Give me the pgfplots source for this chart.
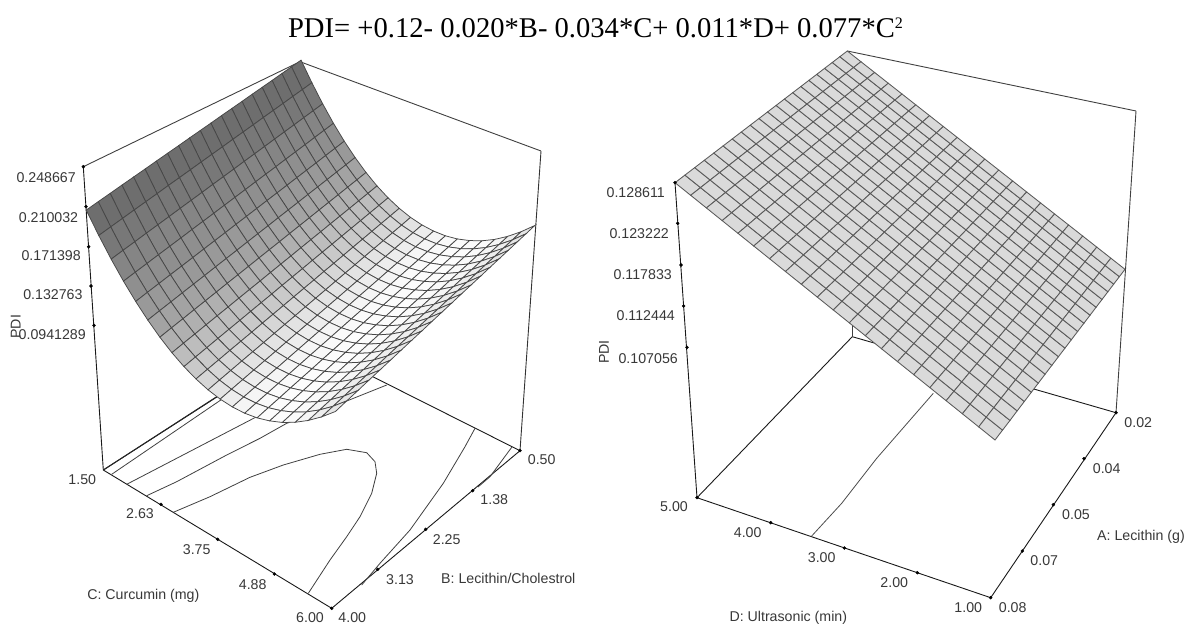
\documentclass[border=0pt]{standalone}
\usepackage{fontspec}
\setmainfont{Liberation Sans}
\newfontfamily\serifT{Liberation Serif}
\usepackage{pgfplots}
\usepackage{pgfplotstable}
\pgfplotsset{compat=1.18}
\pgfplotsset{colormap={sg}{gray(0cm)=(0.43); gray(0.5cm)=(0.43); gray(1.5cm)=(0.47); gray(2.5cm)=(0.52); gray(3.5cm)=(0.56); gray(4.5cm)=(0.60); gray(5.5cm)=(0.64); gray(6.5cm)=(0.69); gray(7.5cm)=(0.74); gray(8.5cm)=(0.79); gray(9.5cm)=(0.84); gray(10.5cm)=(0.89); gray(11.5cm)=(0.93); gray(12.5cm)=(0.96); gray(13.5cm)=(0.98); gray(14.5cm)=(0.99); gray(15.5cm)=(0.99); gray(16.5cm)=(0.98); gray(17.5cm)=(0.96); gray(18.5cm)=(0.93); gray(19.5cm)=(0.90); gray(20cm)=(0.90)}}
% PDI surface, C from 1.50 to 6.00 (one line each), B from 0.50 to 4.00 within a line
\pgfplotstableread[row sep=\\]{PDI\\
0.2487\\ 0.2467\\ 0.2448\\ 0.2428\\ 0.2409\\ 0.2390\\ 0.2370\\ 0.2351\\ 0.2332\\ 0.2312\\ 0.2293\\ 0.2274\\ 0.2254\\ 0.2235\\ 0.2216\\ 0.2196\\ 0.2177\\ 0.2158\\ 0.2138\\ 0.2119\\ 0.2099\\
0.2307\\ 0.2287\\ 0.2268\\ 0.2248\\ 0.2229\\ 0.2210\\ 0.2190\\ 0.2171\\ 0.2152\\ 0.2132\\ 0.2113\\ 0.2094\\ 0.2074\\ 0.2055\\ 0.2036\\ 0.2016\\ 0.1997\\ 0.1978\\ 0.1958\\ 0.1939\\ 0.1919\\
0.2142\\ 0.2122\\ 0.2103\\ 0.2083\\ 0.2064\\ 0.2045\\ 0.2025\\ 0.2006\\ 0.1987\\ 0.1967\\ 0.1948\\ 0.1929\\ 0.1909\\ 0.1890\\ 0.1871\\ 0.1851\\ 0.1832\\ 0.1813\\ 0.1793\\ 0.1774\\ 0.1754\\
0.1992\\ 0.1972\\ 0.1953\\ 0.1933\\ 0.1914\\ 0.1895\\ 0.1875\\ 0.1856\\ 0.1837\\ 0.1817\\ 0.1798\\ 0.1779\\ 0.1759\\ 0.1740\\ 0.1721\\ 0.1701\\ 0.1682\\ 0.1663\\ 0.1643\\ 0.1624\\ 0.1604\\
0.1858\\ 0.1838\\ 0.1819\\ 0.1799\\ 0.1780\\ 0.1761\\ 0.1741\\ 0.1722\\ 0.1703\\ 0.1683\\ 0.1664\\ 0.1645\\ 0.1625\\ 0.1606\\ 0.1587\\ 0.1567\\ 0.1548\\ 0.1529\\ 0.1509\\ 0.1490\\ 0.1470\\
0.1740\\ 0.1720\\ 0.1701\\ 0.1681\\ 0.1662\\ 0.1643\\ 0.1623\\ 0.1604\\ 0.1585\\ 0.1565\\ 0.1546\\ 0.1527\\ 0.1507\\ 0.1488\\ 0.1469\\ 0.1449\\ 0.1430\\ 0.1411\\ 0.1391\\ 0.1372\\ 0.1352\\
0.1636\\ 0.1616\\ 0.1597\\ 0.1577\\ 0.1558\\ 0.1539\\ 0.1519\\ 0.1500\\ 0.1481\\ 0.1461\\ 0.1442\\ 0.1423\\ 0.1403\\ 0.1384\\ 0.1365\\ 0.1345\\ 0.1326\\ 0.1307\\ 0.1287\\ 0.1268\\ 0.1248\\
0.1548\\ 0.1528\\ 0.1509\\ 0.1489\\ 0.1470\\ 0.1451\\ 0.1431\\ 0.1412\\ 0.1393\\ 0.1373\\ 0.1354\\ 0.1335\\ 0.1315\\ 0.1296\\ 0.1277\\ 0.1257\\ 0.1238\\ 0.1219\\ 0.1199\\ 0.1180\\ 0.1160\\
0.1476\\ 0.1456\\ 0.1437\\ 0.1417\\ 0.1398\\ 0.1379\\ 0.1359\\ 0.1340\\ 0.1321\\ 0.1301\\ 0.1282\\ 0.1263\\ 0.1243\\ 0.1224\\ 0.1205\\ 0.1185\\ 0.1166\\ 0.1147\\ 0.1127\\ 0.1108\\ 0.1088\\
0.1419\\ 0.1399\\ 0.1380\\ 0.1360\\ 0.1341\\ 0.1322\\ 0.1302\\ 0.1283\\ 0.1264\\ 0.1244\\ 0.1225\\ 0.1206\\ 0.1186\\ 0.1167\\ 0.1148\\ 0.1128\\ 0.1109\\ 0.1090\\ 0.1070\\ 0.1051\\ 0.1031\\
0.1377\\ 0.1357\\ 0.1338\\ 0.1318\\ 0.1299\\ 0.1280\\ 0.1260\\ 0.1241\\ 0.1222\\ 0.1202\\ 0.1183\\ 0.1164\\ 0.1144\\ 0.1125\\ 0.1106\\ 0.1086\\ 0.1067\\ 0.1048\\ 0.1028\\ 0.1009\\ 0.0989\\
0.1351\\ 0.1331\\ 0.1312\\ 0.1292\\ 0.1273\\ 0.1254\\ 0.1234\\ 0.1215\\ 0.1196\\ 0.1176\\ 0.1157\\ 0.1138\\ 0.1118\\ 0.1099\\ 0.1080\\ 0.1060\\ 0.1041\\ 0.1022\\ 0.1002\\ 0.0983\\ 0.0963\\
0.1340\\ 0.1320\\ 0.1301\\ 0.1281\\ 0.1262\\ 0.1243\\ 0.1223\\ 0.1204\\ 0.1185\\ 0.1165\\ 0.1146\\ 0.1127\\ 0.1107\\ 0.1088\\ 0.1069\\ 0.1049\\ 0.1030\\ 0.1011\\ 0.0991\\ 0.0972\\ 0.0952\\
0.1344\\ 0.1324\\ 0.1305\\ 0.1285\\ 0.1266\\ 0.1247\\ 0.1227\\ 0.1208\\ 0.1189\\ 0.1169\\ 0.1150\\ 0.1131\\ 0.1111\\ 0.1092\\ 0.1073\\ 0.1053\\ 0.1034\\ 0.1015\\ 0.0995\\ 0.0976\\ 0.0956\\
0.1364\\ 0.1344\\ 0.1325\\ 0.1305\\ 0.1286\\ 0.1267\\ 0.1247\\ 0.1228\\ 0.1209\\ 0.1189\\ 0.1170\\ 0.1151\\ 0.1131\\ 0.1112\\ 0.1093\\ 0.1073\\ 0.1054\\ 0.1035\\ 0.1015\\ 0.0996\\ 0.0976\\
0.1400\\ 0.1380\\ 0.1361\\ 0.1341\\ 0.1322\\ 0.1303\\ 0.1283\\ 0.1264\\ 0.1245\\ 0.1225\\ 0.1206\\ 0.1187\\ 0.1167\\ 0.1148\\ 0.1129\\ 0.1109\\ 0.1090\\ 0.1071\\ 0.1051\\ 0.1032\\ 0.1012\\
0.1450\\ 0.1430\\ 0.1411\\ 0.1391\\ 0.1372\\ 0.1353\\ 0.1333\\ 0.1314\\ 0.1295\\ 0.1275\\ 0.1256\\ 0.1237\\ 0.1217\\ 0.1198\\ 0.1179\\ 0.1159\\ 0.1140\\ 0.1121\\ 0.1101\\ 0.1082\\ 0.1062\\
0.1516\\ 0.1496\\ 0.1477\\ 0.1457\\ 0.1438\\ 0.1419\\ 0.1399\\ 0.1380\\ 0.1361\\ 0.1341\\ 0.1322\\ 0.1303\\ 0.1283\\ 0.1264\\ 0.1245\\ 0.1225\\ 0.1206\\ 0.1187\\ 0.1167\\ 0.1148\\ 0.1128\\
0.1598\\ 0.1578\\ 0.1559\\ 0.1539\\ 0.1520\\ 0.1501\\ 0.1481\\ 0.1462\\ 0.1443\\ 0.1423\\ 0.1404\\ 0.1385\\ 0.1365\\ 0.1346\\ 0.1327\\ 0.1307\\ 0.1288\\ 0.1269\\ 0.1249\\ 0.1230\\ 0.1210\\
0.1695\\ 0.1675\\ 0.1656\\ 0.1636\\ 0.1617\\ 0.1598\\ 0.1578\\ 0.1559\\ 0.1540\\ 0.1520\\ 0.1501\\ 0.1482\\ 0.1462\\ 0.1443\\ 0.1424\\ 0.1404\\ 0.1385\\ 0.1366\\ 0.1346\\ 0.1327\\ 0.1307\\
0.1807\\ 0.1787\\ 0.1768\\ 0.1748\\ 0.1729\\ 0.1710\\ 0.1690\\ 0.1671\\ 0.1652\\ 0.1632\\ 0.1613\\ 0.1594\\ 0.1574\\ 0.1555\\ 0.1536\\ 0.1516\\ 0.1497\\ 0.1478\\ 0.1458\\ 0.1439\\ 0.1419\\
}\tabL
% PDI plane, D from 5 to 1 (one line each), A from 0.08 to 0.02 within a line
\pgfplotstableread[row sep=\\]{PDI\\
0.12860\\ 0.12860\\ 0.12860\\ 0.12860\\ 0.12860\\ 0.12860\\ 0.12860\\ 0.12860\\ 0.12860\\ 0.12860\\ 0.12860\\ 0.12860\\ 0.12860\\ 0.12860\\ 0.12860\\ 0.12860\\ 0.12860\\ 0.12860\\ 0.12860\\ 0.12860\\ 0.12860\\
0.12752\\ 0.12752\\ 0.12752\\ 0.12752\\ 0.12752\\ 0.12752\\ 0.12752\\ 0.12752\\ 0.12752\\ 0.12752\\ 0.12752\\ 0.12752\\ 0.12752\\ 0.12752\\ 0.12752\\ 0.12752\\ 0.12752\\ 0.12752\\ 0.12752\\ 0.12752\\ 0.12752\\
0.12644\\ 0.12644\\ 0.12644\\ 0.12644\\ 0.12644\\ 0.12644\\ 0.12644\\ 0.12644\\ 0.12644\\ 0.12644\\ 0.12644\\ 0.12644\\ 0.12644\\ 0.12644\\ 0.12644\\ 0.12644\\ 0.12644\\ 0.12644\\ 0.12644\\ 0.12644\\ 0.12644\\
0.12536\\ 0.12536\\ 0.12536\\ 0.12536\\ 0.12536\\ 0.12536\\ 0.12536\\ 0.12536\\ 0.12536\\ 0.12536\\ 0.12536\\ 0.12536\\ 0.12536\\ 0.12536\\ 0.12536\\ 0.12536\\ 0.12536\\ 0.12536\\ 0.12536\\ 0.12536\\ 0.12536\\
0.12428\\ 0.12428\\ 0.12428\\ 0.12428\\ 0.12428\\ 0.12428\\ 0.12428\\ 0.12428\\ 0.12428\\ 0.12428\\ 0.12428\\ 0.12428\\ 0.12428\\ 0.12428\\ 0.12428\\ 0.12428\\ 0.12428\\ 0.12428\\ 0.12428\\ 0.12428\\ 0.12428\\
0.12320\\ 0.12320\\ 0.12320\\ 0.12320\\ 0.12320\\ 0.12320\\ 0.12320\\ 0.12320\\ 0.12320\\ 0.12320\\ 0.12320\\ 0.12320\\ 0.12320\\ 0.12320\\ 0.12320\\ 0.12320\\ 0.12320\\ 0.12320\\ 0.12320\\ 0.12320\\ 0.12320\\
0.12212\\ 0.12212\\ 0.12212\\ 0.12212\\ 0.12212\\ 0.12212\\ 0.12212\\ 0.12212\\ 0.12212\\ 0.12212\\ 0.12212\\ 0.12212\\ 0.12212\\ 0.12212\\ 0.12212\\ 0.12212\\ 0.12212\\ 0.12212\\ 0.12212\\ 0.12212\\ 0.12212\\
0.12104\\ 0.12104\\ 0.12104\\ 0.12104\\ 0.12104\\ 0.12104\\ 0.12104\\ 0.12104\\ 0.12104\\ 0.12104\\ 0.12104\\ 0.12104\\ 0.12104\\ 0.12104\\ 0.12104\\ 0.12104\\ 0.12104\\ 0.12104\\ 0.12104\\ 0.12104\\ 0.12104\\
0.11996\\ 0.11996\\ 0.11996\\ 0.11996\\ 0.11996\\ 0.11996\\ 0.11996\\ 0.11996\\ 0.11996\\ 0.11996\\ 0.11996\\ 0.11996\\ 0.11996\\ 0.11996\\ 0.11996\\ 0.11996\\ 0.11996\\ 0.11996\\ 0.11996\\ 0.11996\\ 0.11996\\
0.11888\\ 0.11888\\ 0.11888\\ 0.11888\\ 0.11888\\ 0.11888\\ 0.11888\\ 0.11888\\ 0.11888\\ 0.11888\\ 0.11888\\ 0.11888\\ 0.11888\\ 0.11888\\ 0.11888\\ 0.11888\\ 0.11888\\ 0.11888\\ 0.11888\\ 0.11888\\ 0.11888\\
0.11780\\ 0.11780\\ 0.11780\\ 0.11780\\ 0.11780\\ 0.11780\\ 0.11780\\ 0.11780\\ 0.11780\\ 0.11780\\ 0.11780\\ 0.11780\\ 0.11780\\ 0.11780\\ 0.11780\\ 0.11780\\ 0.11780\\ 0.11780\\ 0.11780\\ 0.11780\\ 0.11780\\
0.11672\\ 0.11672\\ 0.11672\\ 0.11672\\ 0.11672\\ 0.11672\\ 0.11672\\ 0.11672\\ 0.11672\\ 0.11672\\ 0.11672\\ 0.11672\\ 0.11672\\ 0.11672\\ 0.11672\\ 0.11672\\ 0.11672\\ 0.11672\\ 0.11672\\ 0.11672\\ 0.11672\\
0.11564\\ 0.11564\\ 0.11564\\ 0.11564\\ 0.11564\\ 0.11564\\ 0.11564\\ 0.11564\\ 0.11564\\ 0.11564\\ 0.11564\\ 0.11564\\ 0.11564\\ 0.11564\\ 0.11564\\ 0.11564\\ 0.11564\\ 0.11564\\ 0.11564\\ 0.11564\\ 0.11564\\
0.11456\\ 0.11456\\ 0.11456\\ 0.11456\\ 0.11456\\ 0.11456\\ 0.11456\\ 0.11456\\ 0.11456\\ 0.11456\\ 0.11456\\ 0.11456\\ 0.11456\\ 0.11456\\ 0.11456\\ 0.11456\\ 0.11456\\ 0.11456\\ 0.11456\\ 0.11456\\ 0.11456\\
0.11348\\ 0.11348\\ 0.11348\\ 0.11348\\ 0.11348\\ 0.11348\\ 0.11348\\ 0.11348\\ 0.11348\\ 0.11348\\ 0.11348\\ 0.11348\\ 0.11348\\ 0.11348\\ 0.11348\\ 0.11348\\ 0.11348\\ 0.11348\\ 0.11348\\ 0.11348\\ 0.11348\\
0.11240\\ 0.11240\\ 0.11240\\ 0.11240\\ 0.11240\\ 0.11240\\ 0.11240\\ 0.11240\\ 0.11240\\ 0.11240\\ 0.11240\\ 0.11240\\ 0.11240\\ 0.11240\\ 0.11240\\ 0.11240\\ 0.11240\\ 0.11240\\ 0.11240\\ 0.11240\\ 0.11240\\
0.11132\\ 0.11132\\ 0.11132\\ 0.11132\\ 0.11132\\ 0.11132\\ 0.11132\\ 0.11132\\ 0.11132\\ 0.11132\\ 0.11132\\ 0.11132\\ 0.11132\\ 0.11132\\ 0.11132\\ 0.11132\\ 0.11132\\ 0.11132\\ 0.11132\\ 0.11132\\ 0.11132\\
0.11024\\ 0.11024\\ 0.11024\\ 0.11024\\ 0.11024\\ 0.11024\\ 0.11024\\ 0.11024\\ 0.11024\\ 0.11024\\ 0.11024\\ 0.11024\\ 0.11024\\ 0.11024\\ 0.11024\\ 0.11024\\ 0.11024\\ 0.11024\\ 0.11024\\ 0.11024\\ 0.11024\\
0.10916\\ 0.10916\\ 0.10916\\ 0.10916\\ 0.10916\\ 0.10916\\ 0.10916\\ 0.10916\\ 0.10916\\ 0.10916\\ 0.10916\\ 0.10916\\ 0.10916\\ 0.10916\\ 0.10916\\ 0.10916\\ 0.10916\\ 0.10916\\ 0.10916\\ 0.10916\\ 0.10916\\
0.10808\\ 0.10808\\ 0.10808\\ 0.10808\\ 0.10808\\ 0.10808\\ 0.10808\\ 0.10808\\ 0.10808\\ 0.10808\\ 0.10808\\ 0.10808\\ 0.10808\\ 0.10808\\ 0.10808\\ 0.10808\\ 0.10808\\ 0.10808\\ 0.10808\\ 0.10808\\ 0.10808\\
0.10700\\ 0.10700\\ 0.10700\\ 0.10700\\ 0.10700\\ 0.10700\\ 0.10700\\ 0.10700\\ 0.10700\\ 0.10700\\ 0.10700\\ 0.10700\\ 0.10700\\ 0.10700\\ 0.10700\\ 0.10700\\ 0.10700\\ 0.10700\\ 0.10700\\ 0.10700\\ 0.10700\\
}\tabR
% perspective of the two boxes (C,B,PDI and D,A)
\newcommand\Lu{(floor((\coordindex+0.5)/21)/20)}
\newcommand\Lv{(1-floor(mod(\coordindex+0.5,21))/20)}
\newcommand\Lw{((\thisrow{PDI}+0.048)/0.2967)}
\newcommand\Ld{(1-0.093*\Lu+0.1333*\Lv-0.1*\Lw)}
\newcommand\Ru{((0.1286-\thisrow{PDI})/0.0216)}
\newcommand\Rv{(floor(mod(\coordindex+0.5,21))/20)}
\newcommand\Rd{(1-0.02106*\Ru+0.16218*\Rv)}
\tikzset{lab/.style={font=\fontsize{14.2}{14.2}\selectfont,text=black!78,inner sep=0pt}}
\begin{document}
\begin{tikzpicture}
\path[use as bounding box] (0,0) rectangle (1194pt,626pt);
\begin{axis}[anchor=south west,at={(0pt,0pt)},scale only axis,width=1194pt,height=626pt,
  xmin=0,xmax=1194,ymin=0,ymax=626,y dir=reverse,hide axis,clip=false,
  colormap name=sg,point meta min=0,point meta max=20]
% left box
\addplot[black!75,line width=0.9pt,no marks] coordinates {(83.3,166.7) (300,61.7) (541,151)};
\addplot[black!80,line width=0.9pt,no marks] coordinates {(541,151) (520,450.7)};
\addplot[black!90,line width=0.9pt,no marks] coordinates {(83.3,166.7) (103.3,470) (331.7,608.3) (520,450.7) (303,341.6) (103.3,470)};
% left contours
\addplot[black!75,line width=0.8pt,no marks] coordinates {(173.3,512.3) (210,496.7) (250,477.3) (283.3,465) (320,454.3) (346.7,449.3) (366.7,452.7) (375,461.7) (376.7,473.3) (371.7,493.3) (360,516.7) (346.7,536.7) (330,560) (308.3,593.3)};
\addplot[black!75,line width=0.8pt,no marks] coordinates {(146.7,495.7) (176.7,481.7) (226.7,455) (260,438.3) (286.7,423.3) (320,411.7) (386.7,385)};
\addplot[black!75,line width=0.8pt,no marks] coordinates {(126.7,484.3) (260,415)};
\addplot[black!75,line width=0.8pt,no marks] coordinates {(111.7,474.3) (223.3,398.3)};
\addplot[black!85,line width=1pt,no marks] coordinates {(103.3,470) (216.7,396.7)};
\addplot[black!75,line width=0.8pt,no marks] coordinates {(475,428.3) (465,446.7) (443.3,483.3) (410,530) (380,563.3) (361.7,585)};
\addplot[black!75,line width=0.8pt,no marks] coordinates {(511.7,447.3) (490,476.7) (478,487)};
% right box
\addplot[black!75,line width=0.9pt,no marks] coordinates {(847.3,51) (1136,111)};
\addplot[black!75,line width=0.9pt,no marks] coordinates {(1136,111) (1116,412.7)};
\addplot[black!90,line width=0.9pt,no marks] coordinates {(675,182.7) (697,497.7) (990.7,597.7) (1116,412.7) (852.3,336.7) (697,497.7)};
\addplot[black!75,line width=0.9pt,no marks] coordinates {(852.3,336.7) (852.3,320)};
\addplot[black!70,line width=0.8pt,no marks] coordinates {(811.7,536) (841.7,503.3) (876.7,458.3) (933.3,393.3)};
% surfaces
\addplot[surf,mesh/rows=21,mesh/cols=21,shader=faceted,faceted color=black!72,line width=0.75pt,point meta={floor((\coordindex+0.5)/21)}]
  table[x index=0,y index=0,x expr={(103.3+197.6*\Lu+236.1*\Lv-28.3*\Lw)/\Ld},y expr={(470+81.7*\Lu-87.9*\Lv-320*\Lw)/\Ld}] {\tabL};
\addplot[surf,mesh/rows=21,mesh/cols=21,shader=faceted,faceted color=black!65,line width=0.85pt,point meta=9.8]
  table[x index=0,y index=0,x expr={(675+299.05*\Ru+309.7*\Rv)/\Rd},y expr={(182.7+248.03*\Ru-123.43*\Rv)/\Rd}] {\tabR};
% tick dots
\addplot[only marks,mark=*,mark size=1.5pt,black] coordinates {(83.3,166.7) (86,206.7) (88.7,246.7) (91,286) (94,325.3) (161,504.3) (217.7,539.3) (274.3,574) (331.7,608.3) (377.7,569.3) (425.7,529.3) (472.7,490.7) (520,450.7)};
\addplot[only marks,mark=*,mark size=1.5pt,black] coordinates {(675,182.7) (677.7,223.3) (681,265) (683.7,306) (687,347.3) (697,497.7) (770.7,522.7) (844.3,548) (917.3,572.7) (990.7,597.7) (1022.3,551) (1053.3,504.7) (1084,458.7) (1116,412.7)};
% title
\node[font=\serifT\fontsize{28.6}{28.6}\selectfont,text=black,inner sep=0pt,anchor=base] at (axis cs:595.5,38) {PDI= +0.12- 0.020*B- 0.034*C+ 0.011*D+ 0.077*C\raisebox{10pt}{\fontsize{16}{16}\selectfont 2}};
% left labels
\node[lab,anchor=east] at (axis cs:76,177.3) {0.248667};
\node[lab,anchor=east] at (axis cs:78.3,217.3) {0.210032};
\node[lab,anchor=east] at (axis cs:81,256) {0.171398};
\node[lab,anchor=east] at (axis cs:82.7,295) {0.132763};
\node[lab,anchor=east] at (axis cs:86,334.3) {0.0941289};
\node[lab,rotate=90] at (axis cs:15.7,326.7) {PDI};
\node[lab] at (axis cs:82.3,480) {1.50};
\node[lab] at (axis cs:140,514) {2.63};
\node[lab] at (axis cs:196.7,549.3) {3.75};
\node[lab] at (axis cs:252.7,584.3) {4.88};
\node[lab] at (axis cs:310,617.7) {6.00};
\node[lab] at (axis cs:352.3,617.7) {4.00};
\node[lab] at (axis cs:400,579.3) {3.13};
\node[lab] at (axis cs:446.7,540) {2.25};
\node[lab] at (axis cs:494.3,500) {1.38};
\node[lab] at (axis cs:541.7,460) {0.50};
\node[lab] at (axis cs:143.3,596) {C: Curcumin (mg)};
\node[lab] at (axis cs:508.3,578.3) {B: Lecithin/Cholestrol};
% right labels
\node[lab,anchor=east] at (axis cs:665,192.7) {0.128611};
\node[lab,anchor=east] at (axis cs:669,234) {0.123222};
\node[lab,anchor=east] at (axis cs:672,274.3) {0.117833};
\node[lab,anchor=east] at (axis cs:675,316) {0.112444};
\node[lab,anchor=east] at (axis cs:678,358.3) {0.107056};
\node[lab,rotate=90] at (axis cs:604,352) {PDI};
\node[lab] at (axis cs:674,507) {5.00};
\node[lab] at (axis cs:747.7,532.3) {4.00};
\node[lab] at (axis cs:821.7,557.7) {3.00};
\node[lab] at (axis cs:894.3,582.7) {2.00};
\node[lab] at (axis cs:968.3,607.7) {1.00};
\node[lab] at (axis cs:1012.7,607.7) {0.08};
\node[lab] at (axis cs:1044.3,561) {0.07};
\node[lab] at (axis cs:1076,514.3) {0.05};
\node[lab] at (axis cs:1106.7,468.3) {0.04};
\node[lab] at (axis cs:1138.3,422.7) {0.02};
\node[lab] at (axis cs:788.3,618) {D: Ultrasonic (min)};
\node[lab] at (axis cs:1141,537.3) {A: Lecithin (g)};
\end{axis}
\end{tikzpicture}
\end{document}
